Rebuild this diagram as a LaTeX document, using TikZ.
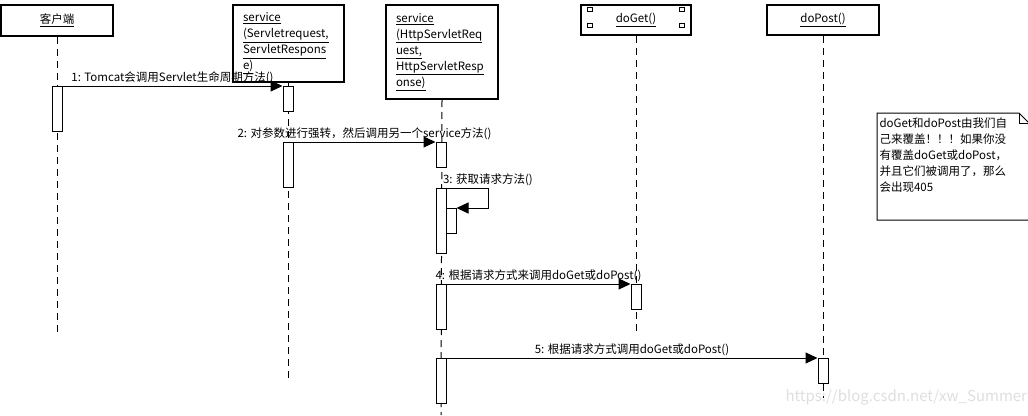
\documentclass[tikz,border=0pt]{standalone}
\usepackage{fontspec}
\setmainfont{Noto Sans CJK SC}
\usetikzlibrary{arrows.meta}

\tikzset{
  hdr/.style={draw,line width=2pt,fill=white,inner sep=0pt,font=\fontsize{11.5}{16}\selectfont},
  act/.style={draw,fill=white,minimum width=10pt,inner sep=0pt,anchor=north},
  life/.style={dash pattern=on 7pt off 5pt},
  msg/.style={-{Triangle[length=12pt,width=11pt]}},
  lbl/.style={font=\fontsize{11.5}{13}\selectfont,inner sep=1.5pt}
}

\begin{document}
\begin{tikzpicture}[x=1pt,y=-1pt,line width=1pt]
\useasboundingbox (0,0) rectangle (1028,415);

\node[hdr,minimum width=112pt,minimum height=31pt] (cli) at (57,20.5) {\underline{客户端}};
\node[hdr,anchor=north west,minimum width=111pt,minimum height=77pt,text width=91pt,align=left] (srv) at (232,4)
  {\underline{service}\\\underline{(Servletrequest,}\\\underline{ServletRespons}\\\underline{e)}};
\node[hdr,anchor=north west,minimum width=112pt,minimum height=94pt,text width=92pt,align=left] (hsrv) at (385,4)
  {\underline{service}\\\underline{(HttpServletReq}\\\underline{uest,}\\\underline{HttpServletResp}\\\underline{onse)}};
\node[hdr,minimum width=110pt,minimum height=30pt] (get) at (636,20) {\underline{doGet()}};
\node[hdr,minimum width=112pt,minimum height=30pt] (post) at (823,20) {\underline{doPost()}};
\foreach \x in {587,679} {
  \foreach \y in {7,23} {
    \draw (\x,\y) rectangle ++(5,4.5);
  }
}

\coordinate (cliend) at (57,335);
\coordinate (srvend) at (288,382);
\coordinate (hsrvend) at (441,415);
\coordinate (getend) at (636,335);
\coordinate (postend) at (823,398);
\draw[life] (cli.south) -- (cliend);
\draw[life] (srv.south -| srvend) -- (srvend);
\draw[life] (hsrv.south) -- (hsrvend);
\draw[life] (get.south) -- (getend);
\draw[life] (post.south) -- (postend);

\node[act,minimum height=45pt] (c1) at (57,86) {};
\node[act,minimum height=25pt] (s1) at (288,86) {};
\node[act,minimum height=45pt] (s2) at (288,142) {};
\node[act,minimum height=25pt] (h1) at (441,142) {};
\node[act,minimum height=65pt] (h2) at (441,188) {};
\node[act,minimum height=25pt] (n1) at (451,208) {};
\node[act,minimum height=45pt] (h3) at (441,284) {};
\node[act,minimum height=25pt] (g1) at (636,284) {};
\node[act,minimum height=45pt] (h4) at (441,358) {};
\node[act,minimum height=25pt] (p1) at (823,358) {};

\draw[msg] (c1.north east) -- node[lbl,above] (l1) {1: Tomcat会调用Servlet生命周期方法()} (s1.north west);
\draw[msg] (s2.north east) -- node[lbl,above] (l2) {2: 对参数进行强转，然后调用另一个service方法()} (h1.north west);
\draw[msg] (h2.north east) -- ++(42,0) |- (n1.north east);
\node[lbl,anchor=south west] (l3) at (h2.north) {3: 获取请求方法()};
\draw[msg] (h3.north east) -- node[lbl,above] (l4) {4: 根据请求方式来调用doGet或doPost()} (g1.north west);
\draw[msg] (h4.north east) -- node[lbl,above] (l5) {5: 根据请求方式调用doGet或doPost()} (p1.north west);

\draw (877,113) -- (1019,113) -- (1029,123) -- (1029,220) -- (877,220) -- cycle;
\draw (1019,113) |- (1029,123);
\node[anchor=north west,align=left,inner sep=0pt,font=\fontsize{11.5}{16}\selectfont] (note) at (879,117)
  {doGet和doPost由我们自\\己来覆盖！！！如果你没\\有覆盖doGet或doPost，\\并且它们被调用了，那么\\会出现405};

\node[anchor=west,inner sep=0pt,text=black!13,font=\fontsize{15}{15}\selectfont] (wm) at (785,397) {https://blog.csdn.net/xw\_Summer};
\end{tikzpicture}
\end{document}
